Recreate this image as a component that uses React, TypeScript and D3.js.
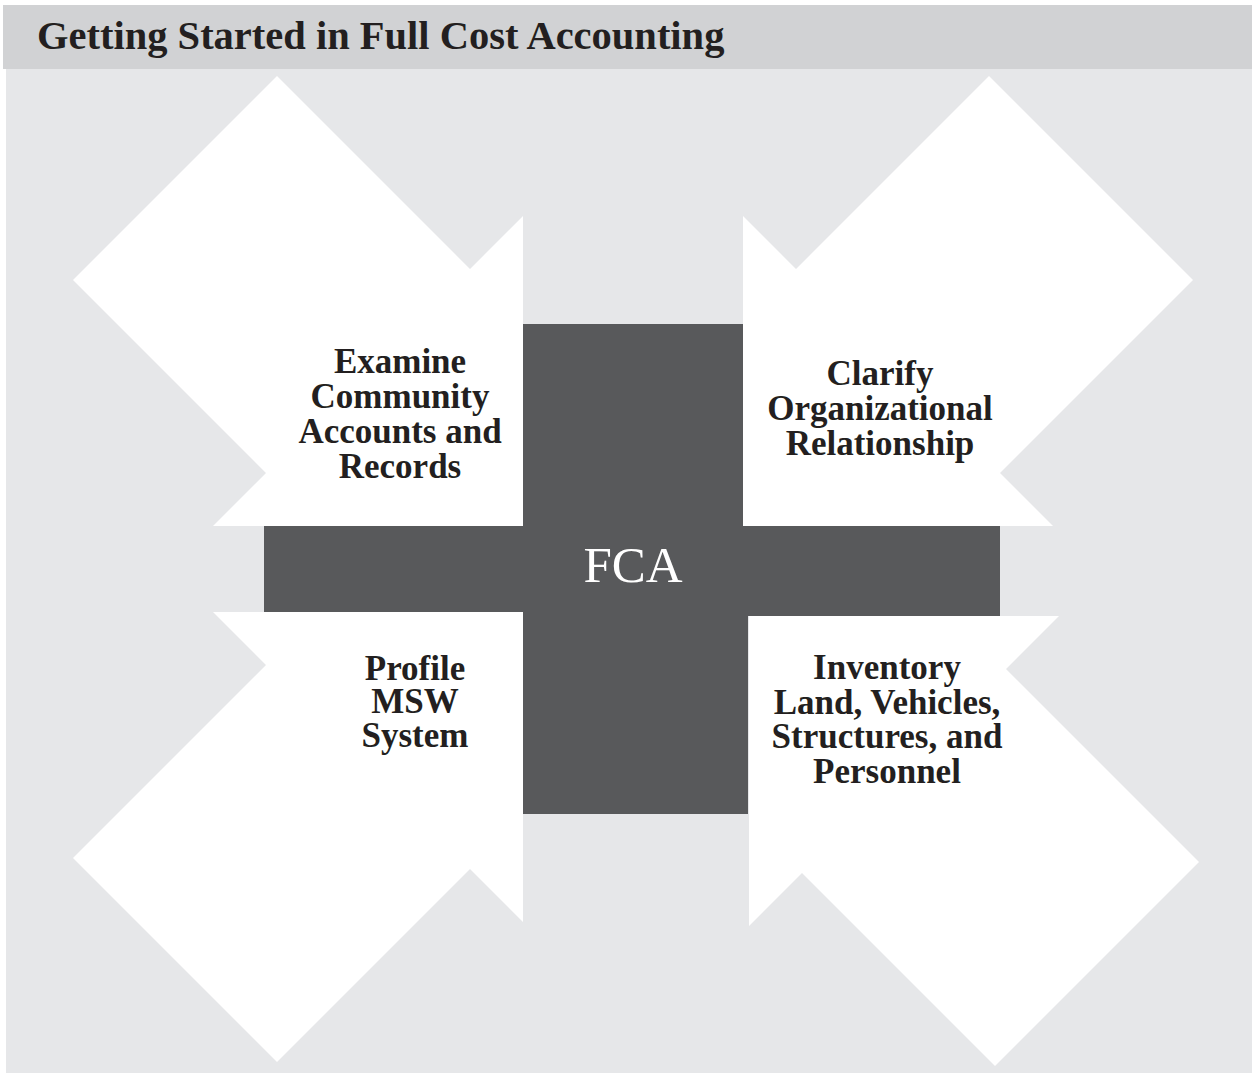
import { useMemo } from "react";
import * as d3 from "d3";

const WIDTH = 1252;
const HEIGHT = 1074;

const TITLE = "Getting Started in Full Cost Accounting";
const CENTER_LABEL = "FCA";

// the four steps, clockwise from top-left
const STEP_IDS = ["records", "organization", "inventory", "profile"];
const STEP_LINES = [
  ["Examine", "Community", "Accounts and", "Records"],
  ["Clarify", "Organizational", "Relationship"],
  ["Inventory", "Land, Vehicles,", "Structures, and", "Personnel"],
  ["Profile", "MSW", "System"],
];
// which way each arrow head points (+1 right/down, -1 left/up)
const HEAD_X = [1, -1, -1, 1];
const HEAD_Y = [1, 1, -1, -1];

const COLORS = {
  header: "#d1d2d4",
  body: "#e6e7e9",
  cross: "#58595b",
  arrow: "#ffffff",
  text: "#231f20",
};

// arrow geometry: head legs, shaft inset on the legs, shaft extension
const HEAD_LEG = 310;
const SHAFT_INSET = 53;
const SHAFT_EXT = 193;

const LINE_H = 35;

const arrowPoints = (sx: number, sy: number): [number, number][] => {
  const L = HEAD_LEG;
  const a = SHAFT_INSET;
  const e = SHAFT_EXT;
  const pts: [number, number][] = [
    [0, 0],
    [0, -L],
    [-a, -(L - a)],
    [-a - e, -(L - a) - e],
    [-(L - a) - e, -a - e],
    [-(L - a), -a],
    [-L, 0],
  ];
  return pts.map(([x, y]) => [x * sx, y * sy]);
};

export default function App() {
  // cross bars in page pixels
  const crossV = { x0: 523, x1: 748, y0: 324, y1: 814 };
  const crossH = { x0: 264, x1: 1000, y0: 526, y1: 616 };

  const corners: [number, number][] = [
    [crossV.x0, crossH.y0],
    [crossV.x1 - 5, crossH.y0],
    [crossV.x1 + 1, crossH.y1],
    [crossV.x0, crossH.y1 - 4],
  ];

  const labelPos: [number, number][] = [
    [400, 373],
    [880, 385],
    [887, 679],
    [415, 680],
  ];
  const labelLineH = [LINE_H, LINE_H, 34.7, 33.4];

  const line = useMemo(() => d3.line().curve(d3.curveLinearClosed), []);

  const arrows = STEP_IDS.map((id, i) => {
    const [cx, cy] = corners[i];
    const d = line(arrowPoints(HEAD_X[i], HEAD_Y[i])) as string;
    return (
      <path
        key={id}
        d={d}
        transform={`translate(${cx},${cy})`}
        fill={COLORS.arrow}
      />
    );
  });

  const labels = STEP_IDS.map((id, i) => (
    <text
      key={id}
      x={labelPos[i][0]}
      y={labelPos[i][1]}
      textAnchor="middle"
      fontFamily="'Liberation Serif', 'DejaVu Serif', serif"
      fontWeight="bold"
      fontSize={35}
      fill={COLORS.text}
    >
      {STEP_LINES[i].map((t, j) => (
        <tspan key={j} x={labelPos[i][0]} y={labelPos[i][1] + j * labelLineH[i]}>
          {t}
        </tspan>
      ))}
    </text>
  ));

  return (
    <svg
      width={WIDTH}
      height={HEIGHT}
      style={{ position: "absolute", left: 0, top: 0, background: "#fff" }}
    >
      <rect x={3} y={5} width={WIDTH - 3} height={64} fill={COLORS.header} />
      <rect x={6} y={69} width={WIDTH - 6} height={1004} fill={COLORS.body} />
      <text
        x={37}
        y={49}
        fontFamily="'Liberation Serif', 'DejaVu Serif', serif"
        fontWeight="bold"
        fontSize={40.5}
        fill={COLORS.text}
      >
        {TITLE}
      </text>

      <rect
        x={crossV.x0}
        y={crossV.y0}
        width={crossV.x1 - crossV.x0}
        height={crossV.y1 - crossV.y0}
        fill={COLORS.cross}
      />
      <rect
        x={crossH.x0}
        y={crossH.y0}
        width={crossH.x1 - crossH.x0}
        height={crossH.y1 - crossH.y0}
        fill={COLORS.cross}
      />

      {arrows}
      {labels}

      <text
        x={633}
        y={582}
        textAnchor="middle"
        fontFamily="'Liberation Serif', 'DejaVu Serif', serif"
        fontSize={51}
        fill="#ffffff"
      >
        {CENTER_LABEL}
      </text>
    </svg>
  );
}
